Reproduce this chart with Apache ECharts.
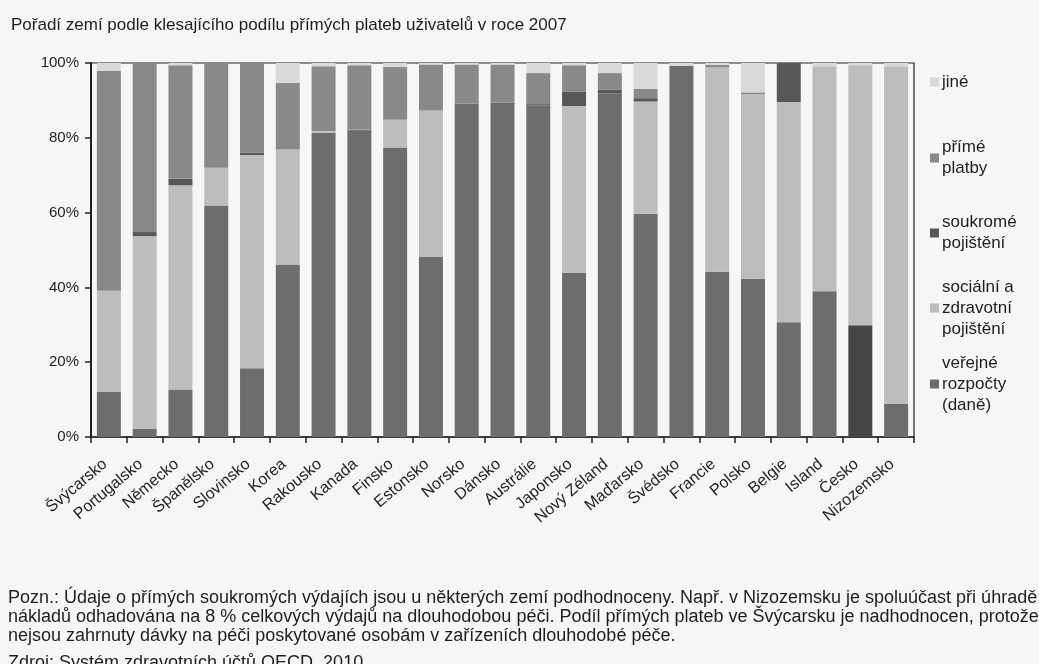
<!DOCTYPE html>
<html>
<head>
<meta charset="utf-8">
<script src="https://cdn.jsdelivr.net/npm/echarts@6/dist/echarts.min.js"></script>
<style>
  html, body { margin: 0; padding: 0; background: #f6f6f6; }
  #chart { width: 1039px; height: 664px; }
</style>
</head>
<body>
<div id="chart"></div>
<script>
// Země seřazené podle podílu přímých plateb (2007)
const categories = ['Švýcarsko', 'Portugalsko', 'Německo', 'Španělsko', 'Slovinsko', 'Korea',
  'Rakousko', 'Kanada', 'Finsko', 'Estonsko', 'Norsko', 'Dánsko', 'Austrálie', 'Japonsko',
  'Nový Zéland', 'Maďarsko', 'Švédsko', 'Francie', 'Polsko', 'Belgie', 'Island', 'Česko', 'Nizozemsko'];

// Podíly zdrojů financování v % (zdola nahoru)
const verejneRozpocty = [12.0, 2.2, 12.7, 61.9, 18.4, 46.1, 81.3, 82.0, 77.4, 48.1, 89.1, 89.4, 88.7, 43.9, 91.8, 59.7, 99.2, 44.2, 42.3, 30.7, 39.0, 29.9, 8.9];
const socialniPojisteni = [27.2, 51.5, 54.6, 10.1, 57.0, 30.8, 0.5, 0, 7.4, 39.2, 0, 0, 0, 44.6, 0, 30.0, 0, 54.7, 49.5, 58.9, 60.1, 69.5, 90.2];
const soukromePojisteni = [0.3, 1.1, 1.8, 0, 0.6, 0, 0, 0.2, 0, 0, 0, 0, 0.3, 3.9, 1.1, 0.9, 0, 0, 0.3, 10.4, 0, 0, 0];
const primePlatby = [58.4, 45.2, 30.3, 28.0, 24.0, 17.8, 17.3, 17.2, 14.1, 12.3, 10.5, 10.2, 8.3, 7.0, 4.4, 2.5, 0, 0.6, 0, 0, 0, 0, 0];
const jine = [2.1, 0, 0.6, 0, 0, 5.3, 0.9, 0.6, 1.1, 0.4, 0.4, 0.4, 2.7, 0.6, 2.7, 6.9, 0.8, 0.5, 7.9, 0, 0.9, 0.6, 0.9];

const yTicks = [0, 20, 40, 60, 80, 100];
const highlighted = 'Česko';

const FONT = 'Liberation Sans, Arial, sans-serif';
const TXT = '#1e1e1e';

const colors = {
  verejne: '#6d6d6d',
  verejneHi: '#464646',
  socialni: '#bdbdbd',
  soukrome: '#575757',
  prime: '#898989',
  jine: '#d9d9d9'
};

const seriesDefs = [
  { name: 'veřejné\nrozpočty\n(daně)', data: verejneRozpocty, color: colors.verejne },
  { name: 'sociální a\nzdravotní\npojištění', data: socialniPojisteni, color: colors.socialni },
  { name: 'soukromé\npojištění', data: soukromePojisteni, color: colors.soukrome },
  { name: 'přímé\nplatby', data: primePlatby, color: colors.prime },
  { name: 'jiné', data: jine, color: colors.jine }
];

const series = seriesDefs.map((s, si) => ({
  name: s.name,
  type: 'bar',
  stack: 'total',
  barWidth: '67%',
  itemStyle: { color: s.color },
  data: s.data.map((v, i) =>
    (si === 0 && categories[i] === highlighted)
      ? { value: v, itemStyle: { color: colors.verejneHi } }
      : v),
  emphasis: { disabled: true }
}));

// One legend block per entry so every swatch sits on the first line of its text
const LINE_H = 21;
const legendCenters = [82, 158, 233, 308, 384];
const legendOrder = [4, 3, 2, 1, 0];
const legends = legendOrder.map((si, k) => {
  const name = seriesDefs[si].name;
  const lines = name.split('\n').length;
  const pad = (lines - 1) * LINE_H;
  const boxH = lines * LINE_H + pad;
  return {
    data: [name],
    left: 930,
    top: legendCenters[k] - boxH / 2,
    orient: 'vertical',
    padding: 0,
    itemWidth: 9,
    itemHeight: 9,
    itemGap: 0,
    icon: 'rect',
    selectedMode: false,
    textStyle: {
      fontFamily: FONT, fontSize: 17, color: TXT,
      lineHeight: LINE_H, padding: [pad, 0, 0, -2]
    }
  };
});

const chart = echarts.init(document.getElementById('chart'), null, { renderer: 'canvas' });
chart.setOption({
  backgroundColor: '#f6f6f6',
  animation: false,
  title: {
    text: 'Pořadí zemí podle klesajícího podílu přímých plateb uživatelů v roce 2007',
    left: 6, top: 12,
    textStyle: { fontFamily: FONT, fontSize: 17, fontWeight: 'normal', color: TXT }
  },
  legend: legends,
  grid: {
    left: 91, right: 125, top: 63, bottom: 227,
    show: true, borderColor: '#222', borderWidth: 1.2, backgroundColor: 'transparent'
  },
  xAxis: {
    type: 'category',
    data: categories,
    axisLine: { lineStyle: { color: '#222', width: 1.5 } },
    axisTick: { show: true, length: 6, lineStyle: { color: '#222', width: 1.5 } },
    axisLabel: {
      rotate: 40, margin: 22, interval: 0, padding: [0, 5, 0, 0],
      fontFamily: FONT, fontSize: 16, color: TXT
    }
  },
  yAxis: {
    type: 'value',
    min: yTicks[0], max: yTicks[yTicks.length - 1], interval: yTicks[1] - yTicks[0],
    axisLine: { show: true, lineStyle: { color: '#222', width: 2 } },
    axisTick: { show: true, length: 6, lineStyle: { color: '#222', width: 1.5 } },
    splitLine: { show: false },
    axisLabel: {
      formatter: '{value}%', margin: 12,
      fontFamily: FONT, fontSize: 15, color: TXT
    }
  },
  series: series,
  graphic: [
    {
      type: 'text', left: 8, top: 589,
      style: {
        text: 'Pozn.: Údaje o přímých soukromých výdajích jsou u některých zemí podhodnoceny. Např. v Nizozemsku je spoluúčast při úhradě\n' +
              'nákladů odhadována na 8 % celkových výdajů na dlouhodobou péči. Podíl přímých plateb ve Švýcarsku je nadhodnocen, protože\n' +
              'nejsou zahrnuty dávky na péči poskytované osobám v zařízeních dlouhodobé péče.',
        font: '18px ' + FONT, lineHeight: 19, fill: TXT
      }
    },
    {
      type: 'text', left: 8, top: 654,
      style: {
        text: 'Zdroj: Systém zdravotních účtů OECD, 2010',
        font: '18px ' + FONT, fill: TXT
      }
    }
  ]
});
</script>
</body>
</html>
